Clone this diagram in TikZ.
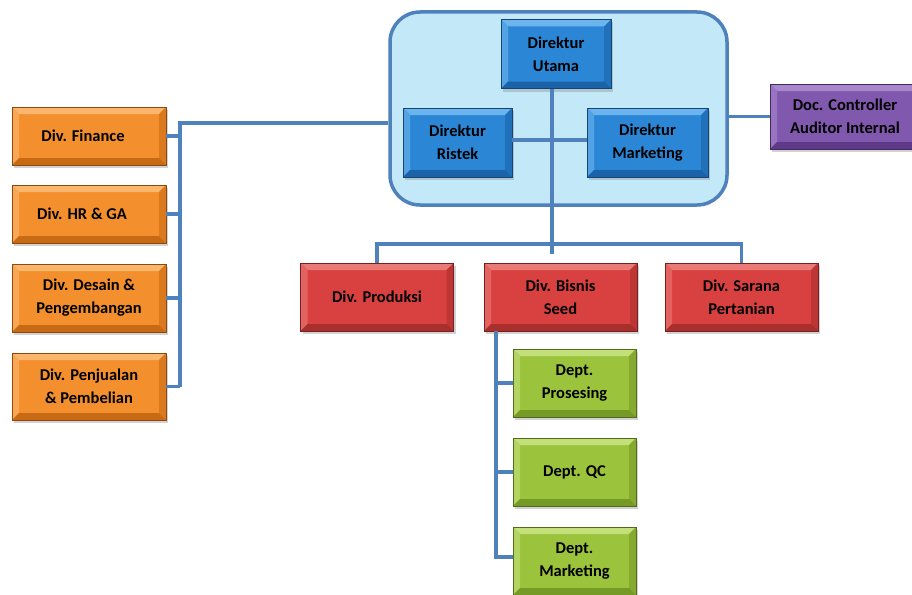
\documentclass[tikz,border=0pt]{standalone}
\usepackage{fontspec}
\setmainfont{Carlito}
\usetikzlibrary{shadows}
\definecolor{lnc}{HTML}{4F81BD}
\definecolor{grpf}{HTML}{C3E9F8}
\definecolor{orM}{HTML}{F48F2E}\definecolor{orL}{HTML}{FBB66E}\definecolor{orD}{HTML}{C86A14}
\definecolor{rdM}{HTML}{D8413F}\definecolor{rdL}{HTML}{EA7A76}\definecolor{rdD}{HTML}{A82F2C}
\definecolor{gnM}{HTML}{9CC33C}\definecolor{gnL}{HTML}{C3E07A}\definecolor{gnD}{HTML}{769A26}
\definecolor{blM}{HTML}{2B87D6}\definecolor{blL}{HTML}{6CB4EE}\definecolor{blD}{HTML}{1B62A8}
\definecolor{puM}{HTML}{8058AE}\definecolor{puL}{HTML}{A888CC}\definecolor{puD}{HTML}{5E3A88}
\tikzset{
  conn/.style={draw=lnc, line width=3.5pt},
  bevbox/.style n args={3}{rectangle, inner sep=0pt, align=center,
    font=\fontsize{16.5}{23}\selectfont\bfseries, fill=#1, draw=#3!70!black, line width=0.4pt,
    drop shadow={opacity=0.35, shadow xshift=2pt, shadow yshift=-3pt},
    path picture={
      \fill[#2] (path picture bounding box.north west) -- (path picture bounding box.north east)
        -- ([xshift=-7pt,yshift=-7pt]path picture bounding box.north east)
        -- ([xshift=7pt,yshift=-7pt]path picture bounding box.north west) -- cycle;
      \fill[#2!60!#1] (path picture bounding box.north west) -- (path picture bounding box.south west)
        -- ([xshift=7pt,yshift=7pt]path picture bounding box.south west)
        -- ([xshift=7pt,yshift=-7pt]path picture bounding box.north west) -- cycle;
      \fill[#3!60!#1] (path picture bounding box.north east) -- (path picture bounding box.south east)
        -- ([xshift=-7pt,yshift=7pt]path picture bounding box.south east)
        -- ([xshift=-7pt,yshift=-7pt]path picture bounding box.north east) -- cycle;
      \fill[#3] (path picture bounding box.south west) -- (path picture bounding box.south east)
        -- ([xshift=-7pt,yshift=7pt]path picture bounding box.south east)
        -- ([xshift=7pt,yshift=7pt]path picture bounding box.south west) -- cycle;
    }},
  orbox/.style={bevbox={orM}{orL}{orD}, minimum width=154pt},
  rdbox/.style={bevbox={rdM}{rdL}{rdD}, minimum width=153pt, minimum height=68pt},
  gnbox/.style={bevbox={gnM}{gnL}{gnD}, minimum width=123pt, minimum height=68pt},
  blbox/.style={bevbox={blM}{blL}{blD}, minimum height=69pt},
  pubox/.style={bevbox={puM}{puL}{puD}, minimum width=150pt, minimum height=65pt},
}
\begin{document}
\begin{tikzpicture}[x=1pt,y=-1pt]
\useasboundingbox (0,0) rectangle (912,594);
\fill[white] (0,0) rectangle (912,594);
\clip (0,0) rectangle (912,594);

\coordinate (lb) at (180,123);
\coordinate (db) at (552,244);
\coordinate (gb) at (496,557);

% left divisions
\node[orbox, minimum height=58pt] (fin) at (89,136) {Div. Finance\hspace{12pt}};
\node[orbox, minimum height=58pt] (hr)  at (89,214) {Div. HR \& GA\hspace{14pt}};
\node[orbox, minimum height=68pt] (des) at (89,298) {Div. Desain \&\hspace{14pt}\\Pengembangan};
\node[orbox, minimum height=67pt] (pen) at (89,386.5) {Div. Penjualan\\\& Pembelian};

% directors group
\node[rectangle, rounded corners=30pt, fill=grpf, draw=lnc, line width=3.5pt,
      minimum width=337pt, minimum height=193pt] (grp) at (558.5,108.5) {};

\draw[conn] (grp.west |- lb) -- (lb) -- (lb |- pen.east);
\foreach \n in {fin,hr,des,pen} \draw[conn] (lb |- \n.east) -- (\n.east);

\node[pubox] (doc) at (845,116.5) {Doc. Controller\\Auditor Internal};
\draw[conn] (grp.east |- doc.west) -- (doc.west);

% divisions
\node[rdbox] (prod) at (377,297) {Div. Produksi};
\node[rdbox] (bis)  at (560.5,297) {Div. Bisnis\\Seed};
\node[rdbox] (sar)  at (741.5,297) {Div. Sarana\\Pertanian};

\draw[conn] (prod.north) -- (prod.north |- db) -- (sar.north |- db) -- (sar.north);

\node[blbox, minimum width=110pt] (du) at (556,54) {Direktur\\Utama};
\node[blbox, minimum width=109pt] (dr) at (457.5,142.5) {Direktur\\Ristek};
\node[blbox, minimum width=121pt] (dm) at (647.5,142.5) {Direktur\\Marketing};

\draw[conn] (du.south -| db) -- ([yshift=-10pt]db);
\draw[conn] (dr.east |- 0,140) -- (dm.west |- 0,140);

% departments
\node[gnbox] (pro) at (574.5,383) {Dept.\\Prosesing};
\node[gnbox] (qc)  at (574.5,472) {Dept. QC};
\node[gnbox] (mkt) at (574.5,561) {Dept.\\Marketing};

\draw[conn] (bis.south -| gb) -- (gb) -- (gb -| mkt.west);
\draw[conn] (gb |- pro.west) -- (pro.west);
\draw[conn] (gb |- qc.west) -- (qc.west);
\end{tikzpicture}
\end{document}
